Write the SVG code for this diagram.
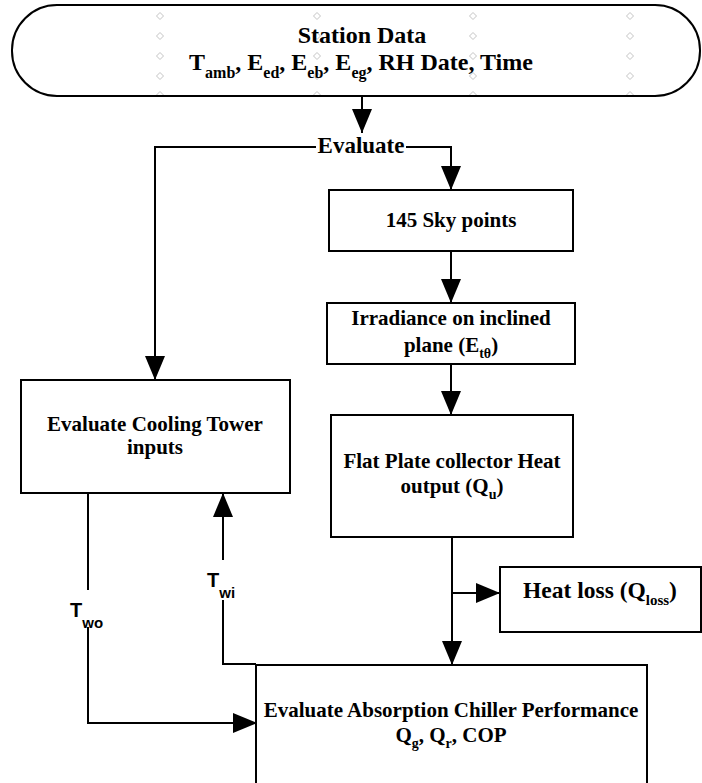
<svg xmlns="http://www.w3.org/2000/svg" width="702" height="783" viewBox="0 0 702 783">
  <style>
    .box { fill: #fff; stroke: #000; stroke-width: 2; }
    .wire { fill: none; stroke: #000; stroke-width: 2; }
    .t { font-family: "Liberation Serif", "Times New Roman", serif; font-weight: bold; fill: #000; }
    .lbl { font-family: "Liberation Sans", Arial, sans-serif; font-weight: bold; fill: #000; }
    .guide { fill: none; stroke: #c4c4c4; stroke-width: 1; }
  </style>
  <defs>
    <marker id="arrow" viewBox="0 0 24 20" refX="24" refY="10" markerWidth="24" markerHeight="20" markerUnits="userSpaceOnUse" orient="auto">
      <path d="M0,0 L24,10 L0,20 Z" fill="#000"/>
    </marker>
    <path id="dia" d="M0,-3.5 L3.5,0 L0,3.5 L-3.5,0 Z"/>
  </defs>

  <rect width="702" height="783" fill="#fff"/>

  <!-- input terminator -->
  <g id="station-data">
    <rect x="12" y="5" width="688" height="91" rx="45" ry="45" fill="#fff"/>
    <g class="guide">
      <use href="#dia" x="160" y="16"/><use href="#dia" x="160" y="36"/><use href="#dia" x="160" y="56"/><use href="#dia" x="160" y="76"/>
      <use href="#dia" x="317" y="16"/><use href="#dia" x="317" y="36"/><use href="#dia" x="317" y="56"/><use href="#dia" x="317" y="76"/>
      <use href="#dia" x="473" y="16"/><use href="#dia" x="473" y="36"/><use href="#dia" x="473" y="56"/><use href="#dia" x="473" y="76"/>
      <use href="#dia" x="630" y="16"/><use href="#dia" x="630" y="36"/><use href="#dia" x="630" y="56"/><use href="#dia" x="630" y="76"/>
      <path d="M156.5,95 L160,91.5 L163.5,95 M313.5,95 L317,91.5 L320.5,95 M469.5,95 L473,91.5 L476.5,95 M626.5,95 L630,91.5 L633.5,95"/>
    </g>
    <rect x="12" y="5" width="688" height="91" rx="45" ry="45" fill="none" stroke="#000" stroke-width="2"/>
    <text class="t" x="362" y="43" text-anchor="middle" font-size="24">Station Data</text>
    <text class="t" x="361" y="70" text-anchor="middle" font-size="24">T<tspan dy="8" font-size="16">amb</tspan><tspan dy="-8">, E</tspan><tspan dy="8" font-size="16">ed</tspan><tspan dy="-8">, E</tspan><tspan dy="8" font-size="16">eb</tspan><tspan dy="-8">, E</tspan><tspan dy="8" font-size="16">eg</tspan><tspan dy="-8">, RH Date, Time</tspan></text>
  </g>

  <g id="evaluate">
    <text class="t" x="361" y="153" text-anchor="middle" font-size="23">Evaluate</text>
  </g>

  <g id="sky-points">
    <rect class="box" x="329" y="190" width="244" height="61"/>
    <text class="t" x="451" y="227" text-anchor="middle" font-size="21">145 Sky points</text>
  </g>

  <g id="irradiance">
    <rect class="box" x="327" y="303" width="248" height="61"/>
    <text class="t" x="451" y="325" text-anchor="middle" font-size="21">Irradiance on inclined</text>
    <text class="t" x="451" y="352" text-anchor="middle" font-size="21">plane (E<tspan dy="6" font-size="14">tθ</tspan><tspan dy="-6">)</tspan></text>
  </g>

  <g id="collector">
    <rect class="box" x="331" y="415" width="242" height="122"/>
    <text class="t" x="452" y="468" text-anchor="middle" font-size="21">Flat Plate collector Heat</text>
    <text class="t" x="452" y="493" text-anchor="middle" font-size="21">output (Q<tspan dy="6" font-size="14">u</tspan><tspan dy="-6">)</tspan></text>
  </g>

  <g id="heat-loss">
    <rect class="box" x="500" y="567" width="201" height="65"/>
    <text class="t" x="600" y="598" text-anchor="middle" font-size="23.5">Heat loss (Q<tspan dy="7" font-size="15">loss</tspan><tspan dy="-7">)</tspan></text>
  </g>

  <g id="cooling-tower">
    <rect class="box" x="21" y="380" width="269" height="113"/>
    <text class="t" x="155" y="431" text-anchor="middle" font-size="21">Evaluate Cooling Tower</text>
    <text class="t" x="155" y="454" text-anchor="middle" font-size="21">inputs</text>
  </g>

  <g id="chiller">
    <rect class="box" x="256" y="665" width="391" height="130"/>
    <text class="t" x="451" y="717" text-anchor="middle" font-size="21">Evaluate Absorption Chiller Performance</text>
    <text class="t" x="451" y="742" text-anchor="middle" font-size="21">Q<tspan dy="6" font-size="14">g</tspan><tspan dy="-6">, Q</tspan><tspan dy="6" font-size="14">r</tspan><tspan dy="-6">, COP</tspan></text>
  </g>

  <g id="connectors">
    <path class="wire" d="M362,96 V133" marker-end="url(#arrow)"/>
    <path class="wire" d="M316,147 H155 V380" marker-end="url(#arrow)"/>
    <path class="wire" d="M406,147 H451 V190" marker-end="url(#arrow)"/>
    <path class="wire" d="M451,251 V303" marker-end="url(#arrow)"/>
    <path class="wire" d="M451,364 V415" marker-end="url(#arrow)"/>
    <path class="wire" d="M452,537 V665" marker-end="url(#arrow)"/>
    <path class="wire" d="M452,593 H500" marker-end="url(#arrow)"/>
    <path class="wire" d="M88,493 V590"/>
    <path class="wire" d="M88,627 V723 H257" marker-end="url(#arrow)"/>
    <path class="wire" d="M223,560 V493" marker-end="url(#arrow)"/>
    <path class="wire" d="M223,600 V664 H256"/>
  </g>

  <g id="temperature-labels">
    <text class="lbl" x="70" y="617" font-size="20">T<tspan dy="11" font-size="15">wo</tspan></text>
    <text class="lbl" x="207" y="587" font-size="20">T<tspan dy="11" font-size="15">wi</tspan></text>
  </g>
</svg>
